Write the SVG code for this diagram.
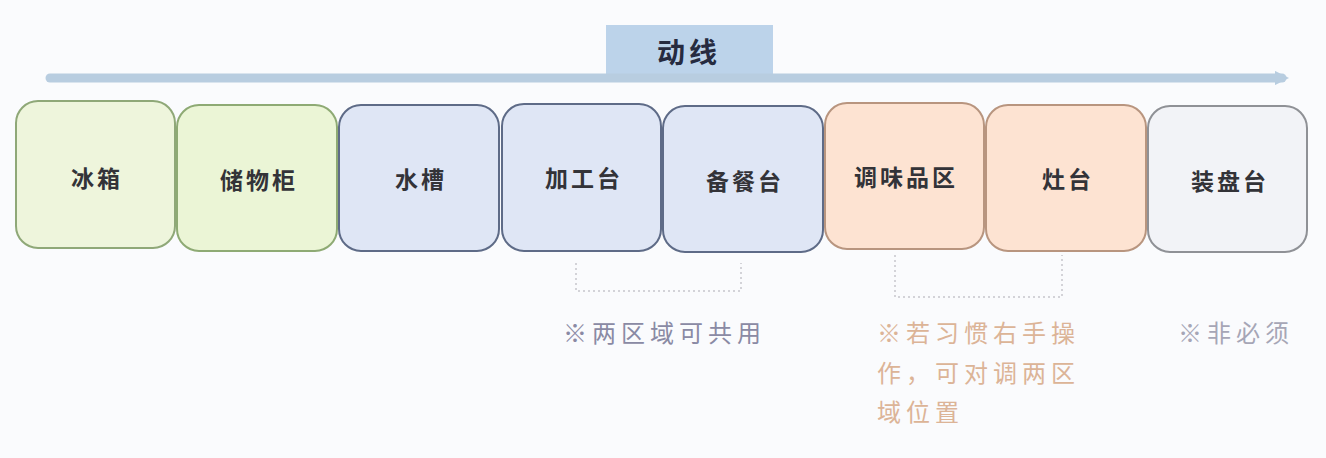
<svg xmlns="http://www.w3.org/2000/svg" width="1326" height="458" viewBox="0 0 1326 458">
<defs>
<style>
.box{stroke-width:2}
.g{fill:#eef5dc;stroke:#8fa878}
.g2{fill:#ebf5d6;stroke:#8eaa74}
.b{fill:#dfe6f5;stroke:#5e6b87}
.o{fill:#fde3d2;stroke:#b8957f}
.w{fill:#f2f3f7;stroke:#8f9196}
.lbl{font-family:"Noto Sans CJK SC","Noto Sans",sans-serif;font-size:23px;font-weight:700;fill:#333338;text-anchor:middle;letter-spacing:3px}
.note{font-family:"Noto Sans CJK SC","Noto Sans",sans-serif;font-size:24px;letter-spacing:5px}
.dash{fill:none;stroke:#c6c6cc;stroke-width:1.5;stroke-dasharray:2 3}
</style>
<marker id="ah" viewBox="0 0 10 10" refX="5" refY="5" markerWidth="1.6" markerHeight="1.6" orient="auto" markerUnits="strokeWidth">
<path d="M0,0 L10,5 L0,10 z" fill="#b8cde0"/>
</marker>
</defs>
<rect width="1326" height="458" fill="#fafbfd"/>
<g id="title">
<rect x="606" y="25" width="167" height="55" fill="#bcd3ea"/>
<text x="689" y="63" font-family="'Noto Sans CJK SC',sans-serif" font-size="28" font-weight="700" fill="#262b40" text-anchor="middle" letter-spacing="4">动线</text>
</g>
<g id="connectors">
<line x1="50" y1="78" x2="1282" y2="78" stroke="#b8cde0" stroke-width="9" stroke-linecap="round" marker-end="url(#ah)"/>
<path class="dash" d="M576,263 V291 H741 V263"/>
<path class="dash" d="M895,255 V297 H1062 V255"/>
</g>
<g id="n1"><rect class="box g" x="16" y="101" width="159" height="147" rx="22"/><text class="lbl" x="97" y="187">冰箱</text></g>
<g id="n2"><rect class="box g2" x="177" y="105" width="160" height="146" rx="22"/><text class="lbl" x="259" y="189">储物柜</text></g>
<g id="n3"><rect class="box b" x="339" y="105" width="160" height="146" rx="22"/><text class="lbl" x="421" y="188">水槽</text></g>
<g id="n4"><rect class="box b" x="502" y="104" width="159" height="147" rx="22"/><text class="lbl" x="584" y="187">加工台</text></g>
<g id="n5"><rect class="box b" x="663" y="106" width="160" height="146" rx="22"/><text class="lbl" x="745" y="190">备餐台</text></g>
<g id="n6"><rect class="box o" x="825" y="103" width="159" height="146" rx="22"/><text class="lbl" x="906" y="186">调味品区</text></g>
<g id="n7"><rect class="box o" x="986" y="105" width="160" height="146" rx="22"/><text class="lbl" x="1068" y="188">灶台</text></g>
<g id="n8"><rect class="box w" x="1148" y="106" width="159" height="146" rx="22"/><text class="lbl" x="1230" y="190">装盘台</text></g>
<g id="notes">
<text class="note" x="563" y="342" fill="#8a8aa4">※两区域可共用</text>
<text class="note" x="877" y="342" fill="#dcb497">※若习惯右手操</text>
<text class="note" x="877" y="382" fill="#dcb497">作，可对调两区</text>
<text class="note" x="877" y="421" fill="#dcb497">域位置</text>
<text class="note" x="1178" y="342" fill="#a6a6b6">※非必须</text>
</g>
</svg>
